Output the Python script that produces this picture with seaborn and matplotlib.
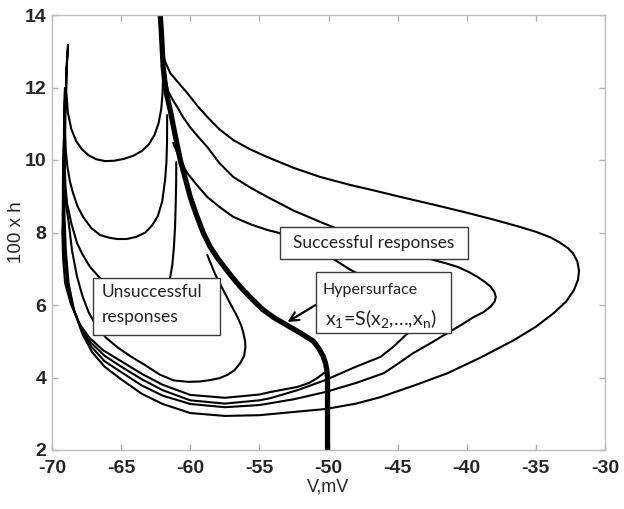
import matplotlib
matplotlib.use("Agg")
import matplotlib.pyplot as plt
import seaborn as sns
import pandas as pd
from matplotlib.patches import Rectangle

# ---------------- data (V in mV, 100*h) ----------------
sep_v = [-62.17, -62.1, -62.03, -61.96, -61.85, -61.7, -61.45, -61.1, -60.72, -60.35, -60.0,
         -59.55, -59.06, -58.55, -58.04, -57.2, -56.38, -55.5, -54.71, -53.9, -53.04,
         -52.0, -51.09, -50.7, -50.4, -50.22, -50.12, -50.07, -50.07]
sep_h = [14.0, 13.6, 13.1, 12.57, 12.2, 11.8, 11.38, 10.7, 10.0, 9.48, 8.98,
         8.48, 7.99, 7.6, 7.3, 6.88, 6.5, 6.15, 5.86, 5.64, 5.45,
         5.22, 5.0, 4.8, 4.6, 4.4, 4.2, 4.0, 2.0]

# trajectory 1: U-shape (min ~9.97) -> left edge -> outer successful loop
t1_v = [-61.96, -61.97, -62.0, -62.1, -62.3, -62.6, -63.0, -63.5, -64.1, -64.8, -65.5,
        -66.16, -66.8, -67.35, -67.85, -68.25, -68.6, -68.85, -68.97, -68.95, -68.84,
        -68.95, -69.02, -69.08, -69.1, -69.0, -68.8, -68.4, -67.8, -67.1, -66.2,
        -65.0, -63.5, -62.0, -60.0, -57.5, -55.0, -52.5, -50.22, -48.0, -46.23,
        -43.8, -41.38, -39.0, -36.59, -35.0, -33.7, -32.8, -32.25, -31.95, -31.88,
        -32.0, -32.3, -32.68, -33.3, -33.91, -35.0, -36.3, -38.0, -39.93, -42.3,
        -44.78, -46.6, -48.41, -50.58, -52.5, -54.42, -55.7, -56.88, -57.9, -58.77,
        -59.5, -60.22, -60.9, -61.45, -61.8, -61.96]
t1_h = [12.76, 12.3, 11.85, 11.4, 11.0, 10.68, 10.43, 10.25, 10.12, 10.03, 9.98,
        9.97, 10.02, 10.13, 10.3, 10.52, 10.85, 11.3, 11.9, 12.5, 13.17,
        12.5, 11.5, 10.0, 8.5, 7.5, 6.6, 5.85, 5.2, 4.7, 4.3,
        3.95, 3.55, 3.27, 3.02, 2.94, 2.96, 3.05, 3.13, 3.28, 3.46,
        3.78, 4.12, 4.55, 5.03, 5.4, 5.78, 6.1, 6.41, 6.7, 6.95,
        7.2, 7.42, 7.57, 7.73, 7.86, 8.02, 8.17, 8.35, 8.54, 8.76,
        8.98, 9.15, 9.31, 9.53, 9.78, 10.08, 10.3, 10.55, 10.85, 11.19,
        11.5, 11.85, 12.15, 12.4, 12.7, 12.9]

# trajectory 2: U-shape (min ~7.82) -> left edge -> middle successful loop
t2_v = [-61.67, -61.68, -61.72, -61.82, -62.03, -62.35, -62.75, -63.25, -63.9, -64.6,
        -65.3, -65.9, -66.52, -67.15, -67.75, -68.15, -68.48, -68.7, -68.88, -69.0,
        -69.06, -69.06,
        -69.12, -69.15, -69.15, -69.05, -68.85, -68.45, -67.85, -67.15, -66.2, -65.0,
        -63.5, -62.0, -60.0, -57.5, -55.0, -52.5, -50.22, -48.0, -46.0, -44.9, -43.84,
        -42.6, -41.38, -40.4, -39.49, -38.8, -38.26, -37.98, -37.9, -38.0, -38.26,
        -38.7, -39.2, -39.9, -40.65, -41.5, -42.39, -49.35, -50.58, -52.5, -54.42,
        -55.7, -56.88, -57.9, -58.77, -59.45, -60.0, -60.5, -60.94, -61.3, -61.6, -61.9]
t2_h = [11.24, 10.5, 9.95, 9.45, 8.85, 8.45, 8.2, 8.0, 7.88, 7.82,
        7.82, 7.86, 7.93, 8.12, 8.43, 8.72, 9.09, 9.4, 9.8, 10.25,
        10.8, 11.99,
        11.5, 10.0, 8.5, 7.5, 6.6, 5.9, 5.3, 4.85, 4.45, 4.15,
        3.78, 3.5, 3.27, 3.18, 3.24, 3.4, 3.6, 3.85, 4.12, 4.4, 4.68,
        4.95, 5.23, 5.45, 5.67, 5.8, 5.96, 6.1, 6.22, 6.36, 6.5,
        6.64, 6.77, 6.92, 7.05, 7.15, 7.24, 8.1, 8.29, 8.6, 8.98,
        9.25, 9.53, 9.92, 10.36, 10.65, 10.9, 11.17, 11.46, 11.68, 11.9, 12.4]

# trajectory 3: U-shape (min ~5.5, partly hidden) -> left edge -> inner successful loop
t3_v = [-61.01, -61.02, -61.05, -61.1, -61.18, -61.3, -61.45, -61.81, -62.54, -63.62,
        -64.93, -65.94, -66.52, -67.25, -67.8, -68.19, -68.6, -68.91, -69.03, -69.08,
        -69.13,
        -69.2, -69.22, -69.12, -68.92, -68.52, -67.92, -67.2, -66.2, -65.0, -63.5,
        -62.0, -60.0, -57.5, -55.0, -54.2, -52.25, -50.22, -48.0, -46.23, -45.3,
        -44.42, -43.8, -43.2, -43.3, -44.5, -46.5, -48.41, -49.86, -53.6, -54.42,
        -55.6, -56.88, -57.8, -58.77, -59.5, -60.22, -60.75, -61.23]
t3_h = [9.94, 9.4, 8.8, 8.15, 7.6, 7.1, 6.77, 6.14, 5.64, 5.45,
        5.64, 6.14, 6.74, 7.05, 7.4, 7.71, 8.25, 8.81, 9.3, 9.9,
        10.63,
        10.0, 8.5, 7.5, 6.6, 5.95, 5.4, 4.97, 4.6, 4.3, 3.95,
        3.65, 3.37, 3.28, 3.37, 3.43, 3.65, 3.93, 4.3, 4.57, 4.85,
        5.17, 5.35, 5.6, 6.0, 6.3, 6.6, 6.97, 7.32, 7.99, 8.07,
        8.22, 8.43, 8.68, 8.98, 9.3, 9.64, 10.02, 10.47]

# trajectory 4: smallest U (min ~3.88) -> left edge -> near-threshold response
t4_v = [-58.77, -58.2, -57.61, -57.05, -56.59, -56.3, -56.16, -56.03, -56.01, -56.1,
        -56.38, -56.8, -57.32, -57.9, -58.55, -59.3, -60.14, -61.2, -62.2, -63.3,
        -64.3, -65.29, -66.1, -66.8, -67.35, -67.8, -68.2, -68.55, -68.8, -69.0, -69.06,
        -69.2, -69.25, -69.2, -69.05, -68.65, -68.05, -67.3, -66.3, -65.0,
        -63.5, -62.0, -60.0, -57.5, -55.0, -54.2, -52.25, -51.4, -50.8, -50.22]
t4_h = [7.38, 6.85, 6.41, 6.0, 5.67, 5.42, 5.23, 5.0, 4.84, 4.6,
        4.4, 4.2, 4.07, 3.98, 3.93, 3.89, 3.88, 3.92, 4.08, 4.35,
        4.58, 4.84, 5.1, 5.42, 5.8, 6.25, 6.8, 7.5, 8.3, 8.8, 9.09,
        8.7, 8.0, 7.3, 6.6, 6.05, 5.5, 5.1, 4.75, 4.45,
        4.1, 3.8, 3.52, 3.44, 3.53, 3.6, 3.74, 3.85, 3.99, 4.15]

x_ticks = [-70, -65, -60, -55, -50, -45, -40, -35, -30]
y_ticks = [2, 4, 6, 8, 10, 12, 14]

# ---------------- style ----------------
sns.set_theme(style="white")
plt.rcParams["font.family"] = ["Liberation Sans", "DejaVu Sans"]
plt.rcParams["mathtext.fontset"] = "custom"
plt.rcParams["mathtext.rm"] = "Lato"
plt.rcParams["mathtext.it"] = "Lato"

fig = plt.figure(figsize=(6.24, 5.09), dpi=100)
ax = fig.add_axes([52 / 624, 1 - 450 / 509, (605 - 52) / 624, (450 - 15) / 509])

for v, h in [(t1_v, t1_h), (t2_v, t2_h), (t3_v, t3_h), (t4_v, t4_h)]:
    df = pd.DataFrame({"V": v, "h": h})
    sns.lineplot(data=df, x="V", y="h", sort=False, estimator=None,
                 color="black", lw=1.5, ax=ax, zorder=2)

sdf = pd.DataFrame({"V": sep_v, "h": sep_h})
sns.lineplot(data=sdf, x="V", y="h", sort=False, estimator=None,
             color="black", lw=3.8, ax=ax, zorder=2.5)

ax.set_xlim(-70, -30)
ax.set_ylim(2, 14)
ax.set_xticks(x_ticks)
ax.set_yticks(y_ticks)
ax.set_xticklabels([str(t) for t in x_ticks], fontsize=14, fontweight="bold")
ax.set_yticklabels([str(t) for t in y_ticks], fontsize=14, fontweight="bold")
ax.tick_params(direction="in", length=4, color="#b0b0b0", width=1,
               top=True, right=True, bottom=True, left=True, pad=4)
ax.tick_params(axis="x", pad=7)
for s in ax.spines.values():
    s.set_color("#bdbdbd")
    s.set_linewidth(1.0)
ax.set_xlabel("V,mV", fontsize=13, labelpad=1)
ax.set_ylabel("100 x h", fontsize=13.5, labelpad=0)

# ---------------- annotation boxes ----------------
box_kw = dict(facecolor="white", edgecolor="#3a3a3a", lw=1.0, zorder=3)
ax.add_patch(Rectangle((-53.48, 7.27), 13.55, 0.88, **box_kw))
ax.add_patch(Rectangle((-67.03, 5.17), 9.2, 1.57, **box_kw))
ax.add_patch(Rectangle((-50.94, 5.23), 9.78, 1.68, **box_kw))

tf = ["Lato", "DejaVu Sans"]
ax.text(-46.75, 7.71, "Successful responses", fontsize=12.5, family=tf,
        ha="center", va="center", zorder=4, color="#222222")
ax.text(-66.4, 6.35, "Unsuccessful", fontsize=12.5, family=tf,
        ha="left", va="center", zorder=4, color="#222222")
ax.text(-66.4, 5.66, "responses", fontsize=12.5, family=tf,
        ha="left", va="center", zorder=4, color="#222222")
ax.text(-50.43, 6.41, "Hypersurface", fontsize=11.5, family=tf,
        ha="left", va="center", zorder=4, color="#222222")
ax.text(-50.25, 5.64, r"x$_\mathrm{1}$=S(x$_\mathrm{2}$,…,x$_\mathrm{n}$)", fontsize=14,
        family=tf, ha="left", va="center", zorder=4, color="#222222")

ax.annotate("", xy=(-52.97, 5.53), xytext=(-50.94, 6.0),
            arrowprops=dict(arrowstyle="->", lw=1.6, color="black",
                            mutation_scale=16, shrinkA=0, shrinkB=0),
            zorder=4)

fig.savefig("out.png", dpi=100)
